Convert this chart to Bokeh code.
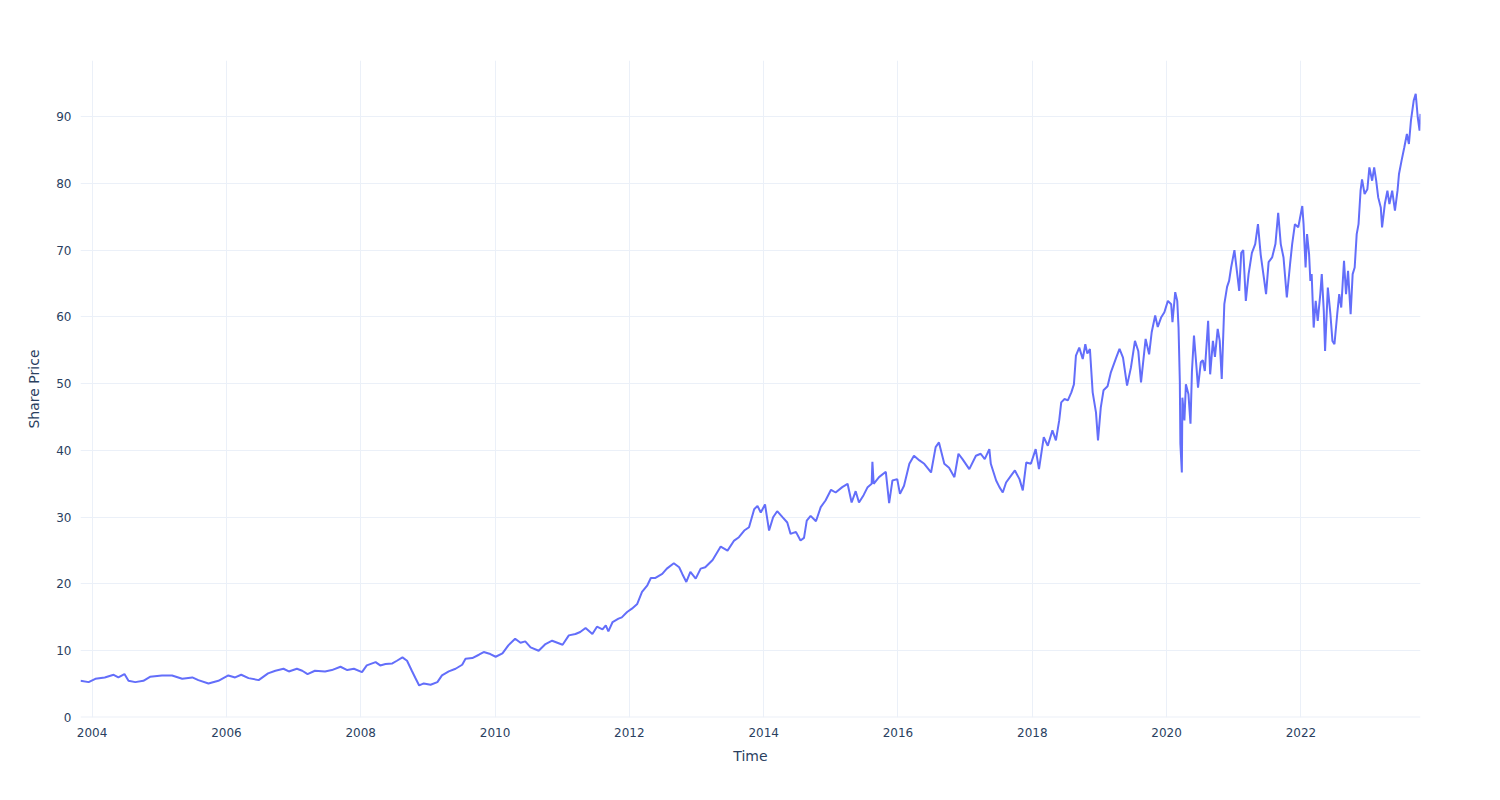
import pandas as pd
from bokeh.plotting import figure
from bokeh.models import Range1d, FixedTicker, DatetimeTickFormatter, Span, ColumnDataSource
from bokeh.embed import file_html
from bokeh.resources import INLINE

dates = [
    "2003-10-30", "2003-12-13", "2004-01-19", "2004-03-10", "2004-04-27", "2004-05-23", "2004-06-25",
    "2004-07-17", "2004-08-23", "2004-10-06", "2004-11-11", "2005-01-15", "2005-03-11", "2005-05-05",
    "2005-06-29", "2005-08-01", "2005-09-25", "2005-11-18", "2006-01-11", "2006-02-17", "2006-03-22",
    "2006-05-01", "2006-06-25", "2006-08-15", "2006-09-24", "2006-11-07", "2006-12-06", "2007-01-19",
    "2007-02-17", "2007-03-18", "2007-04-27", "2007-06-21", "2007-07-28", "2007-09-13", "2007-10-20",
    "2007-11-25", "2008-01-08", "2008-02-03", "2008-03-22", "2008-04-16", "2008-05-15", "2008-06-21",
    "2008-07-16", "2008-08-15", "2008-09-09", "2008-10-05", "2008-10-23", "2008-11-14", "2008-12-09",
    "2009-01-15", "2009-02-21", "2009-03-18", "2009-04-24", "2009-05-31", "2009-07-06", "2009-07-24",
    "2009-08-30", "2009-10-05", "2009-10-31", "2009-12-06", "2010-01-04", "2010-02-10", "2010-03-14",
    "2010-04-20", "2010-05-19", "2010-06-14", "2010-07-13", "2010-08-26", "2010-10-02", "2010-11-07",
    "2011-01-03", "2011-02-06", "2011-03-14", "2011-04-09", "2011-05-08", "2011-06-14", "2011-07-09",
    "2011-08-08", "2011-08-26", "2011-09-09", "2011-10-02", "2011-11-03", "2011-11-21", "2011-12-20",
    "2012-01-15", "2012-02-13", "2012-03-10", "2012-04-08", "2012-04-27", "2012-05-22", "2012-06-28",
    "2012-07-23", "2012-08-30", "2012-09-28", "2012-10-15", "2012-11-06", "2012-11-28", "2012-12-27",
    "2013-01-23", "2013-02-17", "2013-03-29", "2013-05-12", "2013-06-18", "2013-07-24", "2013-08-19",
    "2013-09-17", "2013-10-13", "2013-11-10", "2013-11-28", "2013-12-16", "2014-01-08", "2014-01-30",
    "2014-02-21", "2014-03-15", "2014-04-13", "2014-05-09", "2014-05-27", "2014-06-25", "2014-07-20",
    "2014-08-08", "2014-08-23", "2014-09-13", "2014-10-12", "2014-11-07", "2014-12-03", "2015-01-02",
    "2015-01-27", "2015-03-04", "2015-04-02", "2015-04-24", "2015-05-16", "2015-06-03", "2015-06-28",
    "2015-07-20", "2015-08-11", "2015-08-15", "2015-08-22", "2015-09-20", "2015-10-27", "2015-11-14",
    "2015-12-02", "2015-12-28", "2016-01-12", "2016-02-03", "2016-03-03", "2016-03-28", "2016-04-27",
    "2016-05-23", "2016-06-29", "2016-07-24", "2016-08-11", "2016-09-09", "2016-10-05", "2016-11-03",
    "2016-11-25", "2016-12-17", "2017-01-23", "2017-02-28", "2017-03-26", "2017-04-17", "2017-05-12",
    "2017-05-20", "2017-06-18", "2017-07-06", "2017-07-24", "2017-08-11", "2017-09-06", "2017-09-28",
    "2017-10-23", "2017-11-10", "2017-11-29", "2017-12-24", "2018-01-19", "2018-02-06", "2018-03-04",
    "2018-03-26", "2018-04-20", "2018-05-09", "2018-05-27", "2018-06-07", "2018-06-25", "2018-07-13",
    "2018-08-01", "2018-08-15", "2018-08-26", "2018-09-13", "2018-10-02", "2018-10-16", "2018-10-27",
    "2018-11-10", "2018-11-25", "2018-12-13", "2018-12-24", "2019-01-08", "2019-01-23", "2019-02-14",
    "2019-03-04", "2019-04-02", "2019-04-20", "2019-05-09", "2019-05-31", "2019-06-21", "2019-07-13",
    "2019-07-31", "2019-08-15", "2019-09-09", "2019-09-28", "2019-10-12", "2019-10-31", "2019-11-14",
    "2019-12-02", "2019-12-20", "2020-01-08", "2020-01-26", "2020-02-02", "2020-02-17", "2020-02-28",
    "2020-03-06", "2020-03-13", "2020-03-16", "2020-03-24", "2020-03-27", "2020-04-07", "2020-04-15",
    "2020-04-29", "2020-05-10", "2020-05-18", "2020-05-29", "2020-06-09", "2020-06-20", "2020-07-05",
    "2020-07-16", "2020-07-27", "2020-08-14", "2020-08-25", "2020-09-09", "2020-09-20", "2020-10-05",
    "2020-10-16", "2020-10-27", "2020-11-10", "2020-11-25", "2020-12-06", "2020-12-17", "2021-01-04",
    "2021-01-15", "2021-01-30", "2021-02-10", "2021-02-21", "2021-03-07", "2021-03-22", "2021-04-09",
    "2021-04-27", "2021-05-12", "2021-05-27", "2021-06-14", "2021-06-25", "2021-07-09", "2021-07-28",
    "2021-08-15", "2021-08-30", "2021-09-13", "2021-09-28", "2021-10-16", "2021-11-03", "2021-11-14",
    "2021-11-29", "2021-12-17", "2022-01-08", "2022-01-15", "2022-01-26", "2022-02-03", "2022-02-14",
    "2022-02-21", "2022-02-28", "2022-03-11", "2022-03-22", "2022-04-02", "2022-04-16", "2022-04-24",
    "2022-05-05", "2022-05-12", "2022-05-27", "2022-06-10", "2022-06-21", "2022-07-02", "2022-07-17",
    "2022-07-28", "2022-08-08", "2022-08-23", "2022-09-03", "2022-09-14", "2022-09-28", "2022-10-09",
    "2022-10-20", "2022-10-31", "2022-11-10", "2022-11-21", "2022-11-29", "2022-12-13", "2022-12-28",
    "2023-01-08", "2023-01-23", "2023-02-03", "2023-02-14", "2023-02-25", "2023-03-11", "2023-03-18",
    "2023-04-02", "2023-04-16", "2023-04-27", "2023-05-12", "2023-05-27", "2023-06-10", "2023-06-18",
    "2023-07-02", "2023-07-17", "2023-07-31", "2023-08-11", "2023-08-22", "2023-09-06", "2023-09-17",
    "2023-09-28", "2023-10-08", "2023-10-13",
]

prices = [
    5.5, 5.3, 5.8, 6.0, 6.4, 6.0, 6.5,
    5.5, 5.3, 5.5, 6.1, 6.3, 6.3, 5.8,
    6.0, 5.6, 5.1, 5.5, 6.3, 6.0, 6.4,
    5.9, 5.6, 6.6, 7.0, 7.3, 6.9, 7.3,
    7.0, 6.5, 7.0, 6.9, 7.1, 7.6, 7.1,
    7.3, 6.8, 7.8, 8.3, 7.8, 8.0, 8.1,
    8.5, 9.0, 8.5, 7.0, 6.0, 4.8, 5.1,
    4.9, 5.3, 6.3, 6.9, 7.3, 7.9, 8.8,
    8.9, 9.4, 9.8, 9.5, 9.1, 9.6, 10.8,
    11.8, 11.2, 11.4, 10.5, 10.0, 11.0, 11.5,
    10.9, 12.3, 12.5, 12.8, 13.4, 12.5, 13.6,
    13.2, 13.8, 12.9, 14.3, 14.8, 15.0, 15.8,
    16.3, 17.0, 18.8, 19.8, 20.9, 20.9, 21.5,
    22.3, 23.1, 22.5, 21.5, 20.3, 21.8, 20.8,
    22.3, 22.5, 23.6, 25.6, 25.0, 26.5, 27.0,
    28.0, 28.5, 31.2, 31.7, 30.7, 31.9, 28.0,
    30.0, 30.9, 30.0, 29.2, 27.5, 27.8, 26.5,
    26.9, 29.5, 30.2, 29.4, 31.5, 32.5, 34.1,
    33.7, 34.5, 35.0, 32.2, 33.9, 32.2, 33.3,
    34.5, 35.0, 38.3, 35.0, 36.0, 36.8, 32.1,
    35.5, 35.7, 33.5, 34.7, 38.0, 39.2, 38.5,
    38.0, 36.7, 40.5, 41.2, 38.0, 37.4, 36.0,
    39.5, 38.7, 37.2, 39.2, 39.5, 38.7, 40.2,
    38.0, 35.5, 34.5, 33.7, 35.2, 36.2, 37.0,
    35.7, 34.0, 38.2, 38.0, 40.2, 37.2, 42.0,
    40.7, 43.0, 41.5, 44.5, 47.2, 47.7, 47.5,
    48.7, 49.9, 54.2, 55.4, 53.7, 55.9, 54.5,
    55.2, 48.7, 45.7, 41.5, 46.4, 49.0, 49.6,
    51.7, 53.9, 55.2, 53.9, 49.7, 52.4, 56.4,
    54.9, 50.2, 56.7, 54.4, 57.7, 60.2, 58.5,
    59.9, 60.7, 62.4, 61.9, 59.2, 63.7, 62.4,
    58.4, 50.4, 41.0, 36.7, 47.9, 44.5, 49.9,
    48.4, 44.0, 51.9, 57.2, 53.4, 49.4, 53.2,
    53.5, 51.9, 59.4, 51.4, 56.4, 54.0, 58.2,
    56.4, 50.7, 61.9, 64.5, 65.4, 67.4, 70.0,
    67.4, 63.9, 69.6, 70.0, 62.4, 66.4, 69.6,
    70.9, 73.9, 69.3, 65.7, 63.4, 68.2, 68.9,
    70.9, 75.6, 70.9, 68.9, 62.9, 68.0, 70.9,
    73.9, 73.4, 76.6, 73.9, 67.4, 72.4, 69.4,
    65.4, 66.4, 58.4, 62.4, 59.4, 63.4, 66.4,
    60.9, 54.9, 64.4, 60.4, 56.4, 55.9, 60.4,
    63.4, 61.4, 68.4, 63.4, 66.9, 60.4, 66.4,
    67.4, 72.4, 73.9, 78.9, 80.6, 78.4, 79.1,
    82.4, 80.4, 82.4, 80.4, 77.9, 76.4, 73.4,
    76.9, 78.9, 76.9, 78.9, 75.9, 78.9, 81.4,
    83.4, 85.4, 87.4, 85.9, 89.4, 92.4, 93.4,
    89.9, 87.9, 90.4,
]

y_ticks = [0, 10, 20, 30, 40, 50, 60, 70, 80, 90]
x_tick_years = ["2004", "2006", "2008", "2010", "2012", "2014", "2016", "2018", "2020", "2022"]

x = pd.to_datetime(dates)
src = ColumnDataSource(dict(x=x, y=prices))

FONT = "DejaVu Sans"
GRID = "#EBF0F8"
TXT = "#2a3f5f"

p = figure(width=1500, height=800, x_axis_type="datetime",
           output_backend="svg", toolbar_location=None,
           x_range=Range1d(x[0], x[-1]), y_range=Range1d(0, 98.4),
           min_border_left=80, min_border_right=80, min_border_top=60, min_border_bottom=83)
p.outline_line_color = None
p.background_fill_color = "white"
p.border_fill_color = "white"

p.line("x", "y", source=src, line_color="#636efa", line_width=2)

p.add_layout(Span(location=0, dimension="width", line_color=GRID, line_width=2))

xt = [pd.Timestamp(f"{yr}-01-01").value // 10**6 for yr in x_tick_years]
p.xaxis.ticker = FixedTicker(ticks=xt)
fmt = "%Y"
p.xaxis.formatter = DatetimeTickFormatter(years=fmt, months=fmt, days=fmt, hours=fmt,
                                          minutes=fmt, seconds=fmt, milliseconds=fmt,
                                          microseconds=fmt, minsec=fmt, hourmin=fmt)
p.yaxis.ticker = FixedTicker(ticks=y_ticks)

for ax in (p.xaxis[0], p.yaxis[0]):
    ax.axis_line_color = None
    ax.major_tick_line_color = None
    ax.minor_tick_line_color = None
    ax.major_label_text_font = FONT
    ax.major_label_text_font_size = "12px"
    ax.major_label_text_color = TXT
    ax.axis_label_text_font = FONT
    ax.axis_label_text_font_size = "14px"
    ax.axis_label_text_color = TXT
    ax.axis_label_text_font_style = "normal"

p.xaxis.axis_label = "Time"
p.yaxis.axis_label = "Share Price"
p.xaxis.major_label_standoff = 4
p.xaxis.axis_label_standoff = 8
p.yaxis.major_label_standoff = 3
p.yaxis.axis_label_standoff = 11

p.xgrid.grid_line_color = GRID
p.ygrid.grid_line_color = GRID
p.xgrid.grid_line_width = 1
p.ygrid.grid_line_width = 1

open("out.html", "w").write(file_html(p, INLINE))
